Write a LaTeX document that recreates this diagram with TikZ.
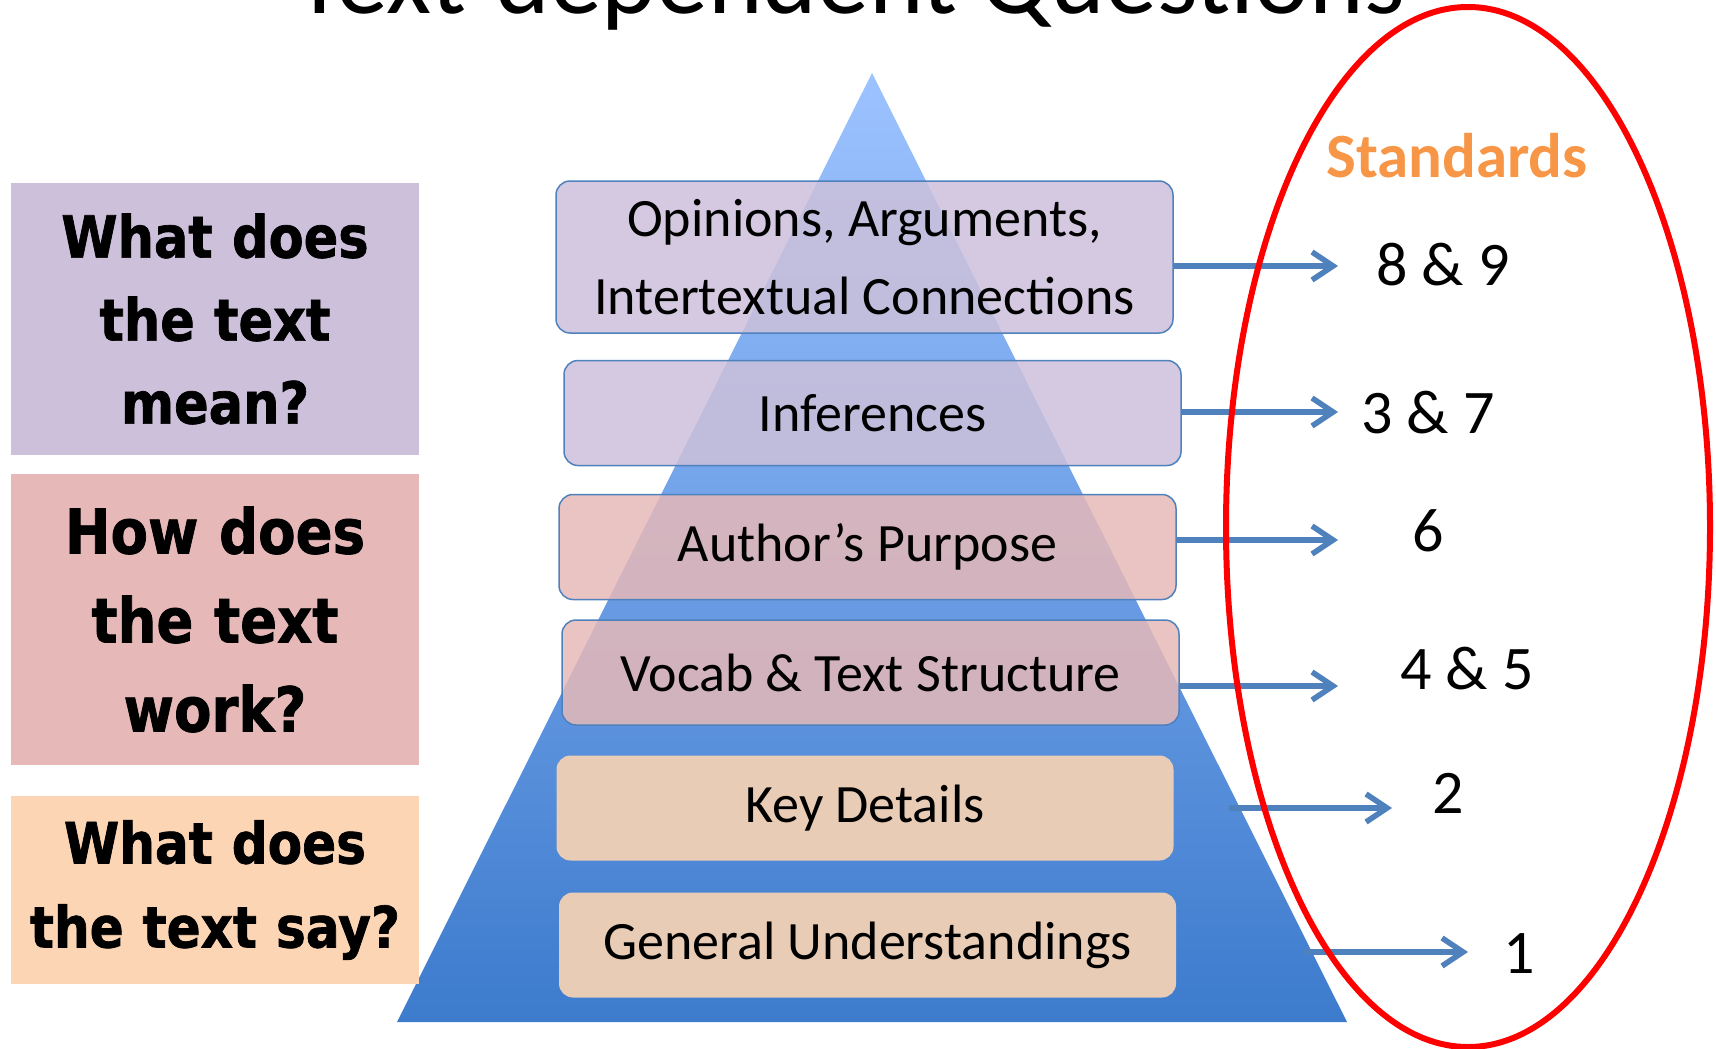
\documentclass[tikz,border=0pt]{standalone}
\usepackage{fontspec}
\setmainfont{Carlito}
\newfontfamily\askfont[FakeStretch=0.88, BoldFeatures={FakeBold=1.2}]{DejaVu Sans}
\usetikzlibrary{arrows.meta}

\definecolor{meanbg}{HTML}{CCC0DA}
\definecolor{workbg}{HTML}{E6B9B8}
\definecolor{saybg}{HTML}{FCD5B5}
\definecolor{detailbg}{HTML}{E8CCB5}
\definecolor{edge}{HTML}{4F81BD}
\definecolor{pyrtop}{HTML}{9DC3FF}
\definecolor{pyrbot}{HTML}{3D7BCD}
\definecolor{stdorange}{HTML}{F79646}

\tikzset{
  ask/.style={fill=#1, minimum width=408pt, text width=404pt, align=center,
    inner sep=0pt, font=\askfont\bfseries\fontsize{58}{83}\selectfont},
  layer/.style={rounded corners=14pt, minimum width=617pt, minimum height=105pt,
    align=center, inner sep=0pt, font=\fontsize{54}{78}\selectfont},
  upper/.style={layer, fill=#1, fill opacity=0.85, text opacity=1, draw=edge,
    line width=1.5pt},
  lower/.style={layer, fill=detailbg},
  num/.style={anchor=base, font=\fontsize{62}{70}\selectfont},
  link/.style={draw=edge, line width=5.5pt,
    -{Straight Barb[length=21pt, width=28pt]}},
}

\begin{document}
\begin{tikzpicture}[x=1pt, y=-1pt]

\useasboundingbox (0,0) rectangle (1716,1049);
\clip (0,0) rectangle (1716,1049);

\node[anchor=base, font=\fontsize{104}{110}\selectfont] (title) at (850,14)
{Text-dependent Questions};

% pyramid
\shade[top color=pyrtop, bottom color=pyrbot]
(872,73) -- (1347,1022) -- (397,1022) -- cycle;

\node[upper=meanbg, minimum height=152pt] (lay1) at (864.5,257)
{Opinions, Arguments,\\Intertextual Connections};
\node[upper=meanbg] (lay2) at (872.5,413) {Inferences};
\node[upper=workbg] (lay3) at (867.5,547) {Author’s Purpose};
\node[upper=workbg] (lay4) at (870.5,672.5) {Vocab \& Text Structure};
\node[lower] (lay5) at (865,808) {Key Details};
\node[lower] (lay6) at (867.5,945) {General Understandings};

\node[ask=meanbg, minimum height=272pt] (mean) at (215,319)
{What does\\the text\\mean?};
\node[ask=workbg, minimum height=291pt,
  font=\askfont\bfseries\fontsize{62}{89}\selectfont] (work) at (215,619.5)
{How does\\the text\\work?};
\node[ask=saybg, minimum height=188pt,
  font=\askfont\bfseries\fontsize{57}{84}\selectfont] (say) at (215,890)
{What does\\the text say?};

\node[anchor=base, text=stdorange, font=\bfseries\fontsize{63}{70}\selectfont]
(std) at (1457,177) {Standards};
\node[num] (num1) at (1443,285) {8 \& 9};
\node[num] (num2) at (1428,433) {3 \& 7};
\node[num] (num3) at (1428,551) {6};
\node[num] (num4) at (1467,689) {4 \& 5};
\node[num] (num5) at (1448,813) {2};
\node[num] (num6) at (1519,973) {1};

\coordinate (t1) at (1338,266);
\coordinate (t2) at (1338,412);
\coordinate (t3) at (1338,540);
\coordinate (t4) at (1338,686);
\coordinate (t5) at (1392,808);
\coordinate (t6) at (1468,952);

\begin{scope}[link]
\draw (lay1.east |- t1) -- (t1);
\draw (lay2.east |- t2) -- (t2);
\draw (lay3.east |- t3) -- (t3);
\draw (lay4.east |- t4) -- (t4);
\draw[shorten <=55pt] (lay5.east |- t5) -- (t5);
\draw[shorten <=128pt] (lay6.east |- t6) -- (t6);
\end{scope}

\draw[red, line width=6pt] (1468,527) ellipse [x radius=242pt, y radius=520pt];

\end{tikzpicture}
\end{document}
